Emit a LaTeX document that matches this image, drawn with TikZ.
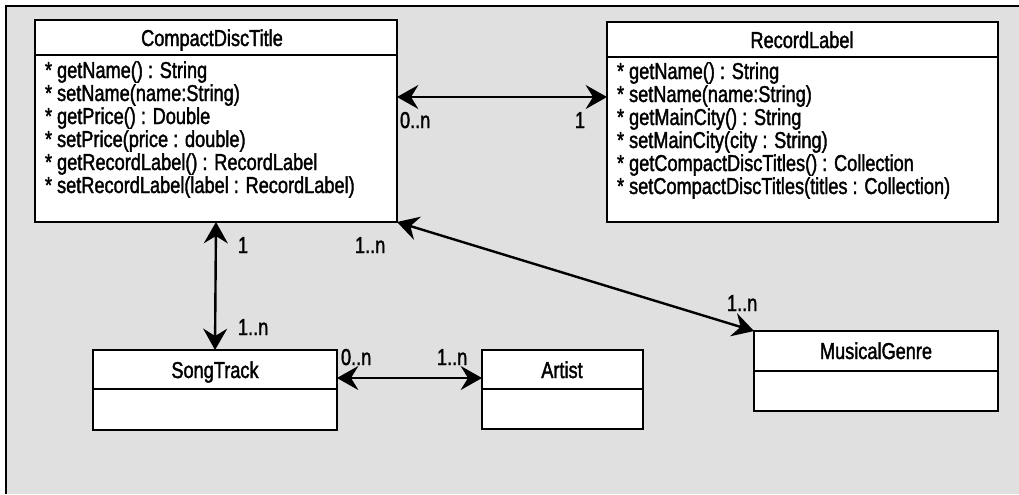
\documentclass[tikz,border=0pt]{standalone}
\usepackage{fontspec}
\setmainfont{Liberation Sans}[FakeStretch=0.79,FakeBold=1.6]
\usetikzlibrary{arrows.meta,fit}
\definecolor{bggray}{HTML}{E0E0E0}
\begin{document}
\begin{tikzpicture}[x=0.75pt,y=-0.75pt,
  txt/.style={inner sep=0pt, outer sep=0pt, font=\fontsize{17.25}{17.25}\selectfont},
  classbox/.style={draw=black, line width=1.4pt, fill=white, inner sep=0pt, outer sep=0pt},
  sep/.style={draw=black, line width=1.4pt},
  title/.style={txt, anchor=base},
  member/.style={txt, anchor=base west},
  mult/.style={txt, anchor=base west},
  tip/.tip={Stealth[length=16pt,width=18pt,inset=5.5pt]},
  assoc/.style={draw=black, line width=1.8pt, tip-tip}
]
\useasboundingbox (0,0) rectangle (1019,494);
\fill[white] (0,0) rectangle (1019,494);
\fill[bggray] (6,6) rectangle (1019,494);
\draw[line width=1.5pt] (1019,6) -- (6,6) -- (6,494);

% CompactDiscTitle
\node[classbox, fit={(35,20) (397,222)}] (cdt) {};
\draw[sep] (cdt.west |- 0,55) -- (cdt.east |- 0,55);
\node[title] (cdtt) at (212,46) {CompactDiscTitle};
\foreach \t [count=\i from 0] in {{* getName() : String},{* setName(name:String)},{* getPrice() : Double},{* setPrice(price : double)},{* getRecordLabel() : RecordLabel},{* setRecordLabel(label : RecordLabel)}}
  \node[member] (cdtm\i) at (45,78+23*\i) {\t};

% RecordLabel
\node[classbox, fit={(607,22) (998,222)}] (rl) {};
\draw[sep] (rl.west |- 0,57) -- (rl.east |- 0,57);
\node[title] (rlt) at (802,48) {RecordLabel};
\foreach \t [count=\i from 0] in {{* getName() : String},{* setName(name:String)},{* getMainCity() : String},{* setMainCity(city : String)},{* getCompactDiscTitles() : Collection},{* setCompactDiscTitles(titles : Collection)}}
  \node[member] (rlm\i) at (617,79+23*\i) {\t};

% SongTrack
\node[classbox, fit={(93,350) (337,430)}] (st) {};
\draw[sep] (st.west |- 0,389) -- (st.east |- 0,389);
\node[title] (stt) at (215,378) {SongTrack};

% Artist
\node[classbox, fit={(482,350) (643,429)}] (ar) {};
\draw[sep] (ar.west |- 0,389) -- (ar.east |- 0,389);
\node[title] (art) at (562,378) {Artist};

% MusicalGenre
\node[classbox, fit={(754,331) (998,411)}] (mg) {};
\draw[sep] (mg.west |- 0,371) -- (mg.east |- 0,371);
\node[title] (mgt) at (876,359) {MusicalGenre};

% associations
\draw[assoc] (cdt.east |- 0,97) -- (rl.west |- 0,97);
\draw[assoc] (cdt.south) -- (st.north);
\draw[assoc] (st.east |- 0,378) -- (ar.west |- 0,378);
\draw[assoc] (cdt.south east) -- (mg.north west);

% multiplicities
\node[mult] (m1) at (400,128) {0..n};
\node[mult] (m2) at (575,128) {1};
\node[mult] (m3) at (238,253) {1};
\node[mult] (m4) at (355,253) {1..n};
\node[mult] (m5) at (238,335) {1..n};
\node[mult] (m6) at (341,365) {0..n};
\node[mult] (m7) at (437,365) {1..n};
\node[mult] (m8) at (727,311) {1..n};
\end{tikzpicture}
\end{document}
